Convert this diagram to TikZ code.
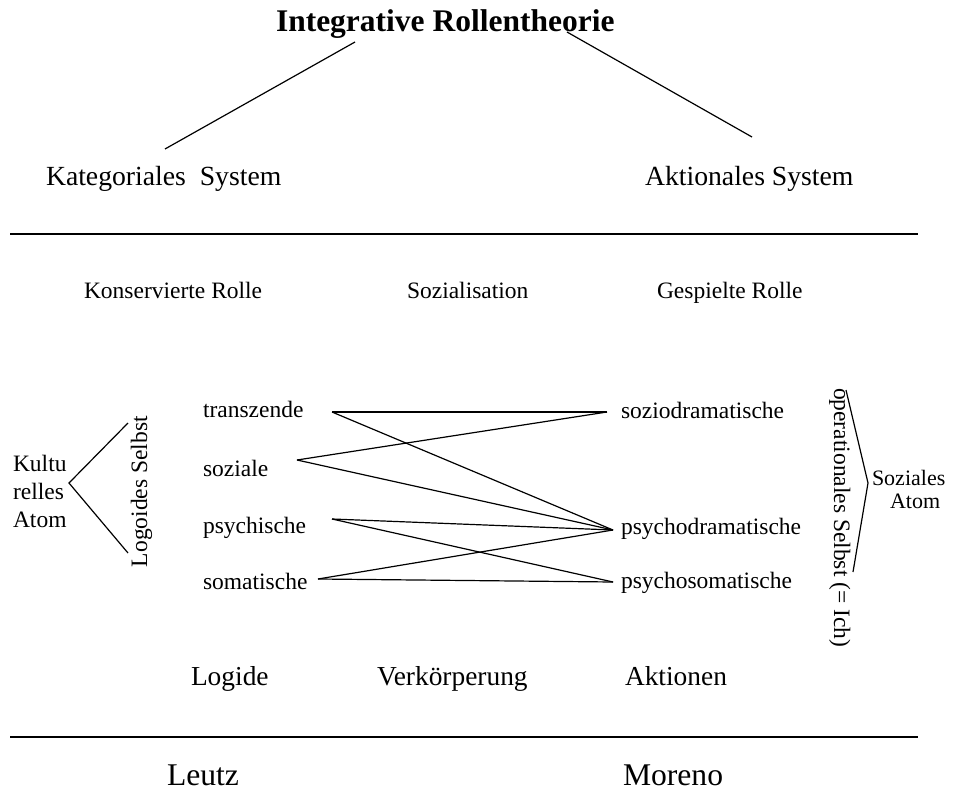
\documentclass[tikz,border=0pt]{standalone}
\usepackage{fontspec}
\setmainfont{Liberation Serif}
\begin{document}
\begin{tikzpicture}[x=1pt,y=-1pt,
  txt/.style={anchor=base west, inner sep=0pt, outer sep=0pt},
  ttl/.style={txt, font=\fontsize{31.5}{36}\selectfont\bfseries},
  sys/.style={txt, font=\fontsize{27.7}{32}\selectfont},
  sml/.style={txt, font=\fontsize{23.5}{28}\selectfont},
  mid/.style={txt, font=\fontsize{27.4}{32}\selectfont},
  big/.style={txt, font=\fontsize{31.6}{36}\selectfont},
  tiny/.style={txt, font=\fontsize{22}{26}\selectfont},
  conn/.style={line width=1.2pt},
  rule/.style={line width=1.8pt}]
\useasboundingbox (0,0) rectangle (956,792);
% title and systems
\node[ttl] (title) at (276,32) {Integrative Rollentheorie};
\node[sys] (kat) at (46,185) {Kategoriales\ \ System};
\node[sys] (akt) at (645,185) {Aktionales System};
\coordinate (tL) at (355,42); \coordinate (kL) at (165,149);
\coordinate (tR) at (567,32); \coordinate (aR) at (752,137);
\draw[conn] (tL) -- (kL);
\draw[conn] (tR) -- (aR);
% rules
\coordinate (r1a) at (10,234); \coordinate (r1b) at (918,234);
\coordinate (r2a) at (10,737); \coordinate (r2b) at (918,737);
\draw[rule] (r1a) -- (r1b);
\draw[rule] (r2a) -- (r2b);
% headings
\node[sml] (kons) at (84,298) {Konservierte Rolle};
\node[sml] (sozi) at (407,298) {Sozialisation};
\node[sml] (gesp) at (657,298) {Gespielte Rolle};
% left column
\node[sml] (trans) at (203,417) {transzende};
\node[sml] (sozial) at (203,476) {soziale};
\node[sml] (psych) at (203,533) {psychische};
\node[sml] (somat) at (203,589) {somatische};
% right column
\node[sml] (sodr) at (621,418) {soziodramatische};
\node[sml] (psdr) at (621,534) {psychodramatische};
\node[sml] (psso) at (621,588) {psychosomatische};
% connector ends
\coordinate (transR) at (332,412);
\coordinate (sozR) at (297,460);
\coordinate (psyR) at (332,519);
\coordinate (somR) at (318,579);
\coordinate (sodL) at (607,412);
\coordinate (pdL) at (613,530);
\coordinate (psL) at (613,582);
\draw[conn] (transR) -- (sodL);
\draw[conn] (transR) -- (pdL);
\draw[conn] (sozR) -- (sodL);
\draw[conn] (sozR) -- (pdL);
\draw[conn] (psyR) -- (pdL);
\draw[conn] (psyR) -- (psL);
\draw[conn] (somR) -- (pdL);
\draw[conn] (somR) -- (psL);
% left bracket
\node[sml] (k1) at (13,471) {Kultu};
\node[sml] (k2) at (13,499) {relles};
\node[sml] (k3) at (13,527) {Atom};
\coordinate (lbT) at (128,423); \coordinate (lbA) at (69,483); \coordinate (lbB) at (128,553);
\draw[conn] (lbT) -- (lbA) -- (lbB);
\node[sml, rotate=90] (logself) at (147,567) {Logoides Selbst};
% right bracket
\node[sml, rotate=-90] (opself) at (834,388) {operationales Selbst (= Ich)};
\coordinate (rbT) at (846,390); \coordinate (rbA) at (868,483); \coordinate (rbB) at (853,572);
\draw[conn] (rbT) -- (rbA) -- (rbB);
\node[tiny] (sa1) at (872,485) {Soziales};
\node[tiny] (sa2) at (890,508) {Atom};
% bottom row
\node[mid] (logide) at (191,685) {Logide};
\node[mid] (verk) at (377,685) {Verkörperung};
\node[mid] (aktion) at (625,685) {Aktionen};
\node[big] (leutz) at (167,785) {Leutz};
\node[big] (moreno) at (623,785) {Moreno};
\end{tikzpicture}
\end{document}
